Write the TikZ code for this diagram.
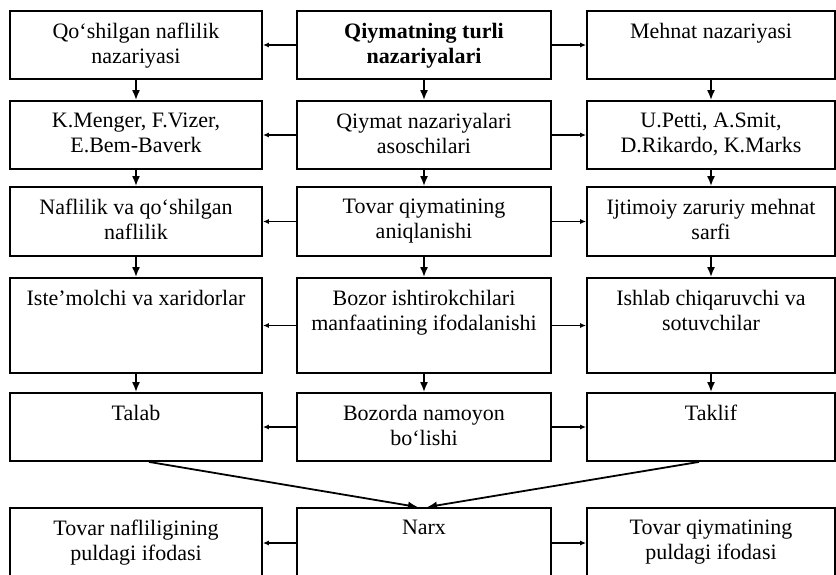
\documentclass[tikz,border=0pt]{standalone}
\usepackage{fontspec}
\setmainfont{Liberation Serif}
\usetikzlibrary{arrows.meta}
\tikzset{
  box/.style={draw, line width=1.8pt, inner sep=0pt},
  colL/.style={box, minimum width=252pt},
  colM/.style={box, minimum width=254pt},
  colR/.style={box, minimum width=248pt},
  lbl/.style={anchor=north, inner sep=0pt, align=center, yshift=-13pt,
    font=\fontsize{22}{25}\selectfont},
  down/.style={-{Latex[length=10pt,width=8pt]}, line width=1.8pt},
  side/.style={-{Latex[length=6pt,width=5pt]}, line width=1.8pt}
}
\begin{document}
\begin{tikzpicture}[x=1pt,y=-1pt]
\useasboundingbox (0,0) rectangle (836,574);
\clip (0,0) rectangle (836,574);
% row 1
\node[colL, minimum height=68pt] (r1l) at (136,45) {};
\node[colM, minimum height=68pt] (r1m) at (424,45) {};
\node[colR, minimum height=68pt] (r1r) at (711,45) {};
\node[lbl] (t1l) at (r1l.north) {Qo‘shilgan naflilik\\nazariyasi};
\node[lbl, font=\fontsize{22}{25}\selectfont\bfseries] (t1m) at (r1m.north) {Qiymatning turli\\nazariyalari};
\node[lbl] (t1r) at (r1r.north) {Mehnat nazariyasi};
% row 2
\node[colL, minimum height=68pt] (r2l) at (136,135) {};
\node[colM, minimum height=68pt] (r2m) at (424,135) {};
\node[colR, minimum height=68pt] (r2r) at (711,135) {};
\node[lbl] (t2l) at (r2l.north) {K.Menger, F.Vizer,\\E.Bem-Baverk};
\node[lbl] (t2m) at (r2m.north) {Qiymat nazariyalari\\asoschilari};
\node[lbl] (t2r) at (r2r.north) {U.Petti, A.Smit,\\D.Rikardo, K.Marks};
% row 3
\node[colL, minimum height=69pt] (r3l) at (136,221.5) {};
\node[colM, minimum height=69pt] (r3m) at (424,221.5) {};
\node[colR, minimum height=69pt] (r3r) at (711,221.5) {};
\node[lbl] (t3l) at (r3l.north) {Naflilik va qo‘shilgan\\naflilik};
\node[lbl] (t3m) at (r3m.north) {Tovar qiymatining\\aniqlanishi};
\node[lbl] (t3r) at (r3r.north) {Ijtimoiy zaruriy mehnat\\sarfi};
% row 4
\node[colL, minimum height=95pt] (r4l) at (136,325.5) {};
\node[colM, minimum height=95pt] (r4m) at (424,325.5) {};
\node[colR, minimum height=95pt] (r4r) at (711,325.5) {};
\node[lbl] (t4l) at (r4l.north) {Iste’molchi va xaridorlar};
\node[lbl] (t4m) at (r4m.north) {Bozor ishtirokchilari\\manfaatining ifodalanishi};
\node[lbl] (t4r) at (r4r.north) {Ishlab chiqaruvchi va\\sotuvchilar};
% row 5
\node[colL, minimum height=68pt] (r5l) at (136,427) {};
\node[colM, minimum height=68pt] (r5m) at (424,427) {};
\node[colR, minimum height=68pt] (r5r) at (711,427) {};
\node[lbl] (t5l) at (r5l.north) {Talab};
\node[lbl] (t5m) at (r5m.north) {Bozorda namoyon\\bo‘lishi};
\node[lbl] (t5r) at (r5r.north) {Taklif};
% row 6
\node[colL, minimum height=70pt] (r6l) at (136,543) {};
\node[colM, minimum height=70pt] (r6m) at (424,543) {};
\node[colR, minimum height=70pt] (r6r) at (711,543) {};
\node[lbl] (t6l) at (r6l.north) {Tovar nafliligining\\puldagi ifodasi};
\node[lbl] (t6m) at (r6m.north) {Narx};
\node[lbl] (t6r) at (r6r.north) {Tovar qiymatining\\puldagi ifodasi};
% arrows
\foreach \a/\b in {1/2,2/3,3/4,4/5} {
  \draw[down] (r\a l.south) -- (r\b l.north);
  \draw[down] (r\a m.south) -- (r\b m.north);
  \draw[down] (r\a r.south) -- (r\b r.north);
}
\foreach \a in {1,...,6} {
  \draw[side] (r\a m.west) -- (r\a l.east);
  \draw[side] (r\a m.east) -- (r\a r.west);
}
\draw[down] ([xshift=13pt]r5l.south) -- ([xshift=-6pt]r6m.north);
\draw[down] ([xshift=-12pt]r5r.south) -- ([xshift=3pt]r6m.north);
\end{tikzpicture}
\end{document}
